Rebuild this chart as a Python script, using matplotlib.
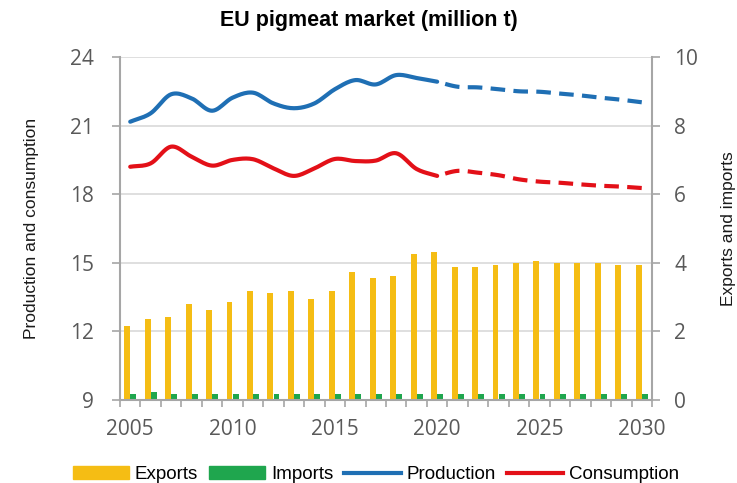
import matplotlib
matplotlib.use("Agg")
import matplotlib.pyplot as plt
import numpy as np
from matplotlib.patches import Patch
from matplotlib.lines import Line2D

years = list(range(2005, 2031))
exports = [2.16, 2.36, 2.43, 2.81, 2.61, 2.87, 3.18, 3.12, 3.18, 2.94, 3.18, 3.74, 3.56,
           3.62, 4.25, 4.31, 3.88, 3.88, 3.94, 4.00, 4.06, 4.00, 4.00, 4.00, 3.94, 3.94]
imports = [0.18, 0.24, 0.18, 0.18, 0.18, 0.18, 0.18, 0.18, 0.18, 0.18, 0.18, 0.18, 0.18,
           0.18, 0.18, 0.18, 0.18, 0.18, 0.18, 0.18, 0.18, 0.18, 0.18, 0.18, 0.18, 0.18]
production = [21.17, 21.54, 22.37, 22.19, 21.65, 22.22, 22.44, 21.97, 21.76, 21.97, 22.59,
              22.99, 22.80, 23.21, 23.08, 22.92, 22.70, 22.67, 22.59, 22.50, 22.48, 22.40,
              22.32, 22.22, 22.13, 22.02]
consumption = [19.20, 19.35, 20.08, 19.64, 19.25, 19.50, 19.53, 19.13, 18.80, 19.13, 19.54,
               19.45, 19.47, 19.79, 19.10, 18.80, 19.02, 18.94, 18.83, 18.65, 18.55, 18.50,
               18.43, 18.37, 18.33, 18.27]
last_hist = 2020

c_exp = "#F5BD14"
c_imp = "#1FA64E"
c_prod = "#1F6FB4"
c_cons = "#E31018"
c_txt = "#595959"
c_axis = "#A6A6A6"
c_grid = "#D9D9D9"
txt_font = ["Liberation Sans", "DejaVu Sans"]
tick_font = ["Open Sans", "DejaVu Sans"]


def smooth(x, y, n=12):
    # catmull-rom style smoothing, like excel's smoothed line
    x = np.asarray(x, float)
    y = np.asarray(y, float)
    px = np.concatenate([[2 * x[0] - x[1]], x, [2 * x[-1] - x[-2]]])
    py = np.concatenate([[2 * y[0] - y[1]], y, [2 * y[-1] - y[-2]]])
    xs, ys = [], []
    t = np.linspace(0, 1, n, endpoint=False)
    for i in range(1, len(px) - 2):
        for arr, out in ((px, xs), (py, ys)):
            p0, p1, p2, p3 = arr[i - 1], arr[i], arr[i + 1], arr[i + 2]
            out.extend(0.5 * (2 * p1 + (-p0 + p2) * t + (2 * p0 - 5 * p1 + 4 * p2 - p3) * t ** 2
                              + (-p0 + 3 * p1 - 3 * p2 + p3) * t ** 3))
    xs.append(x[-1])
    ys.append(y[-1])
    return np.array(xs), np.array(ys)


fig = plt.figure(figsize=(7.37, 4.83), dpi=100)
fig.subplots_adjust(left=120 / 737, right=652 / 737, top=1 - 57 / 483, bottom=1 - 400 / 483)
ax = fig.add_subplot(111)
ax2 = ax.twinx()

idx = np.arange(len(years))
ax.bar(idx - 0.15, exports, width=0.29, color=c_exp, zorder=2)
ax.bar(idx + 0.15, imports, width=0.29, color=c_imp, zorder=2)
ax.set_ylim(0, 10)
ax.set_yticks([0, 2, 4, 6, 8, 10])
ax.yaxis.tick_right()
ax.yaxis.set_label_position("right")
ax.grid(axis="y", color=c_grid, lw=1.2, zorder=0)
ax.set_axisbelow(True)

h = years.index(last_hist)
for vals, col in ((production, c_prod), (consumption, c_cons)):
    sx, sy = smooth(idx[:h + 1], vals[:h + 1])
    ax2.plot(sx, sy, color=col, lw=3, solid_capstyle="round", zorder=3)
    # dashed projection, starting with a gap after the last historical year
    sx, sy = smooth(idx[h:], vals[h:])
    ax2.plot(sx, sy, color=col, lw=3, linestyle=(3.5, (3.5, 2)), dash_capstyle="butt", zorder=3)
ax2.set_ylim(9, 24)
ax2.set_yticks([9, 12, 15, 18, 21, 24])
ax2.yaxis.tick_left()
ax2.yaxis.set_label_position("left")

ax.set_xlim(-0.5, len(years) - 0.5)
ax.set_xticks(idx[::5])
ax.set_xticklabels([str(y) for y in years[::5]])
ax.set_xticks(np.arange(-0.5, len(years), 1), minor=True)
ax.tick_params(axis="x", which="major", length=0, pad=14)
ax.tick_params(axis="x", which="minor", length=5, width=1.2, color=c_axis)

for a in (ax, ax2):
    a.tick_params(axis="both", labelsize=15, labelcolor=c_txt, color=c_axis, width=1.2)
    a.tick_params(axis="y", length=6)
    for lab in a.get_xticklabels() + a.get_yticklabels():
        lab.set_family(tick_font)
    for s in a.spines.values():
        s.set_visible(False)
ax2.tick_params(axis="y", pad=13)
ax.tick_params(axis="y", pad=10)
ax.spines["bottom"].set_visible(True)
ax.spines["right"].set_visible(True)
ax2.spines["left"].set_visible(True)
for s in (ax.spines["bottom"], ax.spines["right"], ax2.spines["left"]):
    s.set_color(c_axis)
    s.set_linewidth(1.5)

ax2.set_ylabel("Production and consumption", fontsize=12.5, color="#1a1a1a", family=txt_font)
ax2.yaxis.set_label_coords(-0.152, 0.5)
ax.set_ylabel("Exports and imports", fontsize=12.5, color="#1a1a1a", family=txt_font)
ax.yaxis.set_label_coords(1.13, 0.5)
fig.suptitle("EU pigmeat market (million t)", fontsize=15.5, fontweight="bold",
             family=txt_font, y=0.98)

handles = [Patch(color=c_exp, label="Exports"), Patch(color=c_imp, label="Imports"),
           Line2D([], [], color=c_prod, lw=3, label="Production"),
           Line2D([], [], color=c_cons, lw=3, label="Consumption")]
fig.legend(handles=handles, loc="lower center", bbox_to_anchor=(0.51, -0.035), ncol=4,
           frameon=False, prop={"family": txt_font, "size": 13.5}, handlelength=3.0,
           handleheight=0.65, columnspacing=0.6, handletextpad=0.3)

fig.savefig("out.png", dpi=100)
